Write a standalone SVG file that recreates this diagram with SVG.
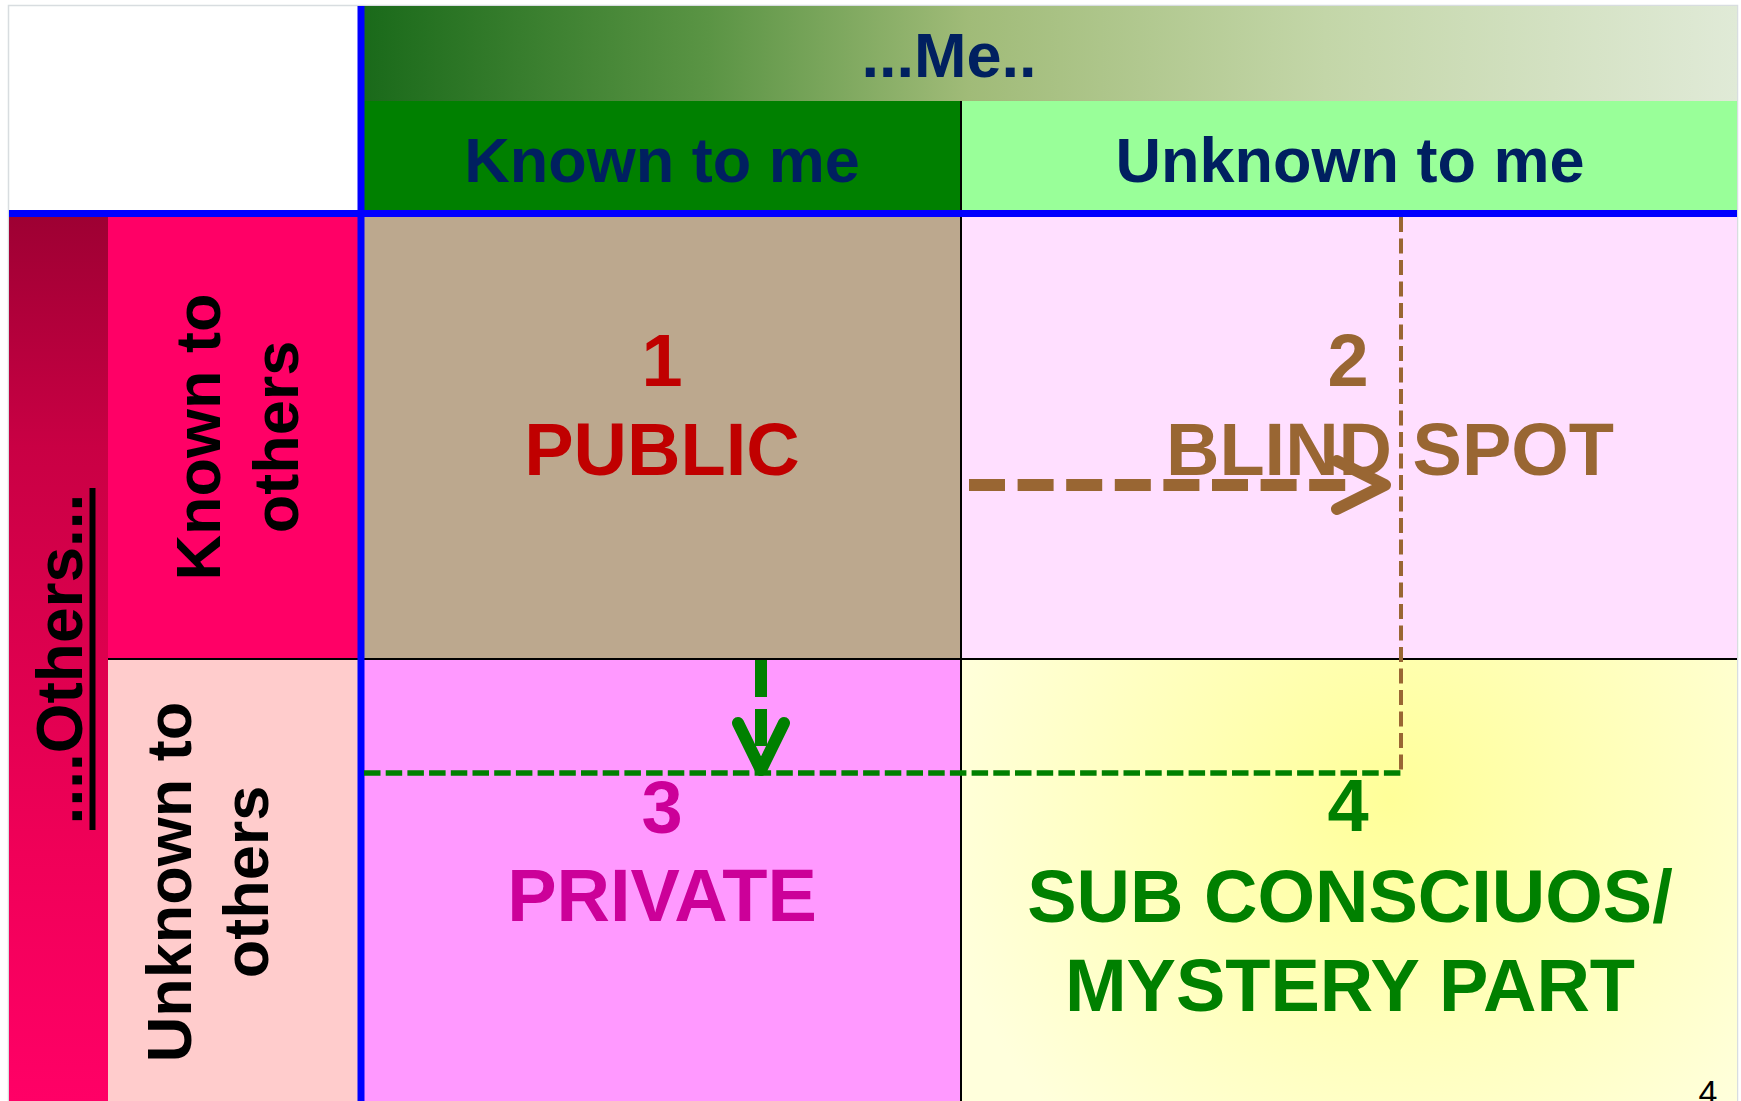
<svg xmlns="http://www.w3.org/2000/svg" width="1741" height="1101" viewBox="0 0 1741 1101">
  <defs>
    <linearGradient id="gHead" x1="0" y1="0" x2="1" y2="0">
      <stop offset="0" stop-color="#1a6a1a"/>
      <stop offset="0.25" stop-color="#5a9444"/>
      <stop offset="0.44" stop-color="#a0bb78"/>
      <stop offset="0.7" stop-color="#c3d6a8"/>
      <stop offset="1" stop-color="#e0ead7"/>
    </linearGradient>
    <linearGradient id="gOthers" x1="0" y1="0" x2="0" y2="1">
      <stop offset="0" stop-color="#9e0033"/>
      <stop offset="0.26" stop-color="#c90044"/>
      <stop offset="0.72" stop-color="#f00058"/>
      <stop offset="1" stop-color="#ff0066"/>
    </linearGradient>
    <radialGradient id="gMystery" gradientUnits="userSpaceOnUse" cx="1390" cy="800" r="460">
      <stop offset="0" stop-color="#ffff99"/>
      <stop offset="1" stop-color="#ffffdc"/>
    </radialGradient>
    <marker id="mBrown" markerUnits="userSpaceOnUse" markerWidth="120" markerHeight="120" refX="0" refY="0" orient="auto" overflow="visible">
      <path d="M-10,-24 L38,0 L-10,24" fill="none" stroke="#996633" stroke-width="12" stroke-linecap="round" stroke-linejoin="round"/>
    </marker>
    <marker id="mGreen" markerUnits="userSpaceOnUse" markerWidth="120" markerHeight="120" refX="0" refY="0" orient="auto" overflow="visible">
      <path d="M-23,-23 L24,0 L-23,23" fill="none" stroke="#008000" stroke-width="12" stroke-linecap="round" stroke-linejoin="round"/>
    </marker>
  </defs>
  <style>
    text { font-family: "Liberation Sans", Arial, sans-serif; font-weight: bold; }
    .hdr { font-size: 63px; fill: #002060; text-anchor: middle; }
    .side { font-size: 63px; fill: #000000; text-anchor: middle; }
    .big { font-size: 74px; text-anchor: middle; }
    .blue { stroke: #0000ff; stroke-width: 7; }
    .black { stroke: #000000; stroke-width: 2; }
  </style>

  <rect x="0" y="0" width="1741" height="1101" fill="#ffffff"/>
  <rect x="8.5" y="5.5" width="1729" height="1100" fill="#ffffff" stroke="#d8dde0" stroke-width="1.5"/>

  <g id="header-me">
    <rect x="364" y="6" width="1373" height="95" fill="url(#gHead)"/>
    <text class="hdr" x="949" y="77" font-size="64">...Me..</text>
  </g>
  <g id="known-to-me">
    <rect x="364" y="101" width="597" height="109" fill="#008000"/>
    <text class="hdr" x="662" y="182">Known to me</text>
  </g>
  <g id="unknown-to-me">
    <rect x="961" y="101" width="776" height="109" fill="#99ff99"/>
    <text class="hdr" x="1350" y="182">Unknown to me</text>
  </g>

  <g id="others">
    <rect x="9" y="217" width="99" height="884" fill="url(#gOthers)"/>
    <text transform="translate(82,659) rotate(-90)" x="0" y="0" font-size="64" text-anchor="middle" fill="#000000">....Others...</text>
    <line x1="92.5" y1="488" x2="92.5" y2="830" stroke="#000000" stroke-width="6"/>
  </g>
  <g id="known-to-others">
    <rect x="108" y="217" width="250" height="442" fill="#ff0066"/>
    <text class="side" transform="translate(220,437) rotate(-90)"><tspan x="0" y="0">Known to</tspan><tspan x="0" dy="78">others</tspan></text>
  </g>
  <g id="unknown-to-others">
    <rect x="108" y="659" width="250" height="442" fill="#ffcccc"/>
    <text class="side" transform="translate(191,882) rotate(-90)"><tspan x="0" y="0">Unknown to</tspan><tspan x="0" dy="77">others</tspan></text>
  </g>

  <g id="public">
    <rect x="364" y="217" width="597" height="442" fill="#bca88e"/>
    <text class="big" x="662" y="386" fill="#c00000">1</text>
    <text class="big" x="662" y="475" fill="#c00000">PUBLIC</text>
  </g>
  <g id="blind-spot">
    <rect x="961" y="217" width="776" height="442" fill="#ffdfff"/>
    <text class="big" x="1348" y="386" fill="#996633">2</text>
    <text class="big" x="1390" y="475" fill="#996633">BLIND SPOT</text>
  </g>
  <g id="private">
    <rect x="364" y="659" width="597" height="442" fill="#ff99ff"/>
    <text class="big" x="662" y="833" fill="#cc0099">3</text>
    <text class="big" x="662" y="921" fill="#cc0099">PRIVATE</text>
  </g>
  <g id="mystery">
    <rect x="961" y="659" width="776" height="442" fill="url(#gMystery)"/>
    <text class="big" x="1348" y="831" fill="#008000">4</text>
    <text class="big" x="1350" y="922" fill="#008000">SUB CONSCIUOS/</text>
    <text class="big" x="1350" y="1011" fill="#008000">MYSTERY PART</text>
  </g>

  <g id="grid-lines">
    <line class="black" x1="108" y1="659" x2="1737" y2="659"/>
    <line class="black" x1="961" y1="101" x2="961" y2="1101"/>
    <line class="blue" x1="361" y1="6" x2="361" y2="1101"/>
    <line class="blue" x1="9" y1="213.5" x2="1737" y2="213.5"/>
  </g>

  <g id="connectors">
    <path d="M1401,217 V773" fill="none" stroke="#996633" stroke-width="4" stroke-dasharray="15 6.5"/>
    <path d="M364,773 H1401" fill="none" stroke="#008000" stroke-width="5.5" stroke-dasharray="16.5 5.2"/>
    <path d="M969,485 H1347" fill="none" stroke="#996633" stroke-width="12" stroke-dasharray="36 12.6" marker-end="url(#mBrown)"/>
    <path d="M761,660 V746" fill="none" stroke="#008000" stroke-width="12" stroke-dasharray="37 12" marker-end="url(#mGreen)"/>
  </g>

  <text x="1708" y="1104" font-size="34" font-weight="normal" text-anchor="middle" fill="#000000" style="font-weight:normal">4</text>
</svg>
